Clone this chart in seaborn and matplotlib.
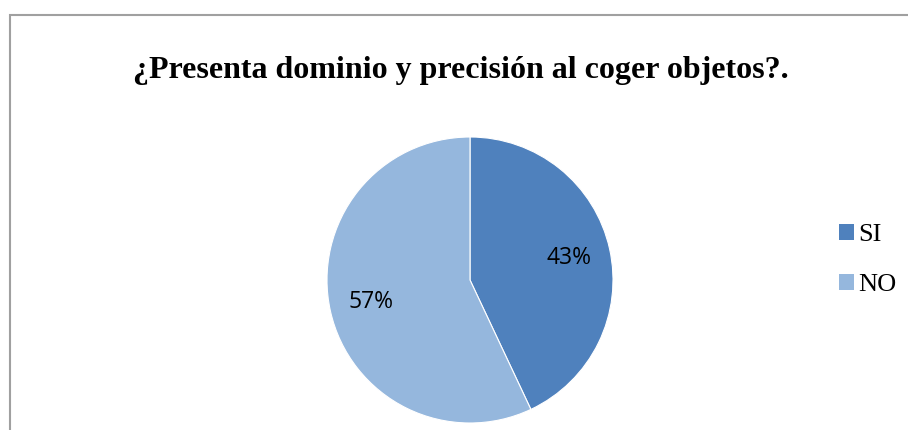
import matplotlib
matplotlib.use("Agg")
import matplotlib.pyplot as plt
import seaborn as sns
from matplotlib.patches import Patch, Rectangle

# --- Data ---
labels = ["SI", "NO"]
values = [43, 57]
colors = ["#4F81BD", "#95B7DD"]
title = "¿Presenta dominio y precisión al coger objetos?."

sns.set_theme(style="white")
plt.rcParams["font.family"] = ["Liberation Serif", "DejaVu Serif"]
plt.rcParams["text.color"] = "black"

W, H = 908, 430
fig = plt.figure(figsize=(W / 100, H / 100), dpi=100)

# --- Outer chart border (cut off at right and bottom) ---
fig.patches.append(Rectangle((9.5 / W, -0.2), 1.2, 1.2 - 15 / H,
                             transform=fig.transFigure, fill=False,
                             edgecolor="#A0A0A0", linewidth=1.5))

# --- Pie ---
cx, cy, r = 470, 280, 143
ax = fig.add_axes([(cx - r) / W, (H - cy - r) / H, 2 * r / W, 2 * r / H])
wedges, _, autotexts = ax.pie(values, colors=colors, startangle=90, counterclock=False,
                              autopct="%d%%", pctdistance=0.71,
                              wedgeprops=dict(linewidth=0.8, edgecolor="white"),
                              textprops=dict(family="Open Sans", fontsize=16.5, color="black"))
ax.set_xlim(-1, 1)
ax.set_ylim(-1, 1)
ax.set_aspect("equal")
ax.axis("off")

# --- Title ---
fig.text(461 / W, 1 - 70 / H, title, ha="center", va="center",
         fontsize=23, fontweight="bold", color="black")

# --- Legend ---
handles = [Patch(facecolor=c, edgecolor="none") for c in colors]
leg = fig.legend(handles, labels, loc="center left", bbox_to_anchor=(839 / W, 1 - 260 / H),
                 frameon=False, fontsize=19, handlelength=0.55, handleheight=0.55,
                 handletextpad=0.18, labelspacing=1.05, borderpad=0, borderaxespad=0)
for t in leg.get_texts():
    t.set_color("black")

fig.savefig("out.png", dpi=100)
